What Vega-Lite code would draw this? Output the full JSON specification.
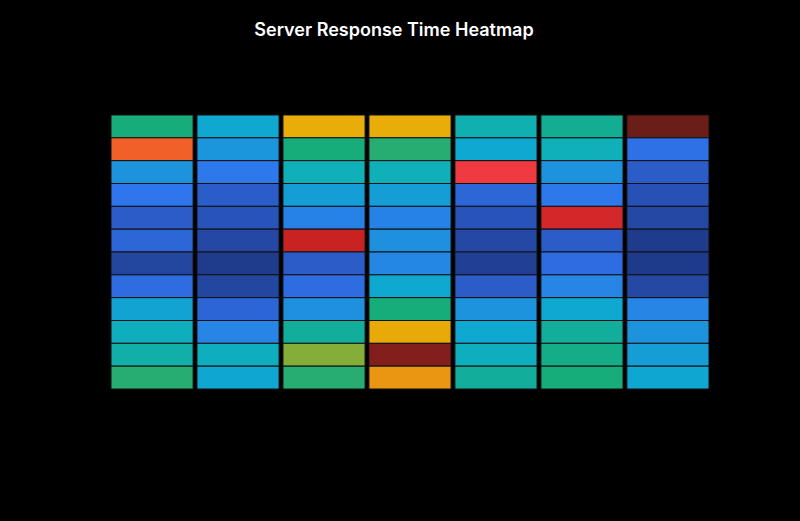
{
  "$schema": "https://vega.github.io/schema/vega-lite/v6.json",
  "autosize": {"type": "fit", "contains": "padding"},
  "width": 800,
  "height": 521,
  "padding": {"left": 110, "right": 90, "top": 21, "bottom": 131},
  "background": "#000000",
  "title": {
    "text": "Server Response Time Heatmap",
    "color": "#ffffff",
    "font": "Inter",
    "fontSize": 18,
    "fontWeight": 600,
    "anchor": "middle",
    "dx": -16,
    "offset": 75
  },
  "data": {
    "values": [
      {"day": "Mon", "slot": "00:00", "ms": 240}, {"day": "Mon", "slot": "02:00", "ms": 370}, {"day": "Mon", "slot": "04:00", "ms": 160}, {"day": "Mon", "slot": "06:00", "ms": 140},
      {"day": "Mon", "slot": "08:00", "ms": 120}, {"day": "Mon", "slot": "10:00", "ms": 128}, {"day": "Mon", "slot": "12:00", "ms": 100}, {"day": "Mon", "slot": "14:00", "ms": 133},
      {"day": "Mon", "slot": "16:00", "ms": 175}, {"day": "Mon", "slot": "18:00", "ms": 195}, {"day": "Mon", "slot": "20:00", "ms": 212}, {"day": "Mon", "slot": "22:00", "ms": 246},

      {"day": "Tue", "slot": "00:00", "ms": 180}, {"day": "Tue", "slot": "02:00", "ms": 162}, {"day": "Tue", "slot": "04:00", "ms": 142}, {"day": "Tue", "slot": "06:00", "ms": 121},
      {"day": "Tue", "slot": "08:00", "ms": 112}, {"day": "Tue", "slot": "10:00", "ms": 102}, {"day": "Tue", "slot": "12:00", "ms": 82}, {"day": "Tue", "slot": "14:00", "ms": 101},
      {"day": "Tue", "slot": "16:00", "ms": 127}, {"day": "Tue", "slot": "18:00", "ms": 150}, {"day": "Tue", "slot": "20:00", "ms": 195}, {"day": "Tue", "slot": "22:00", "ms": 178},

      {"day": "Wed", "slot": "00:00", "ms": 320}, {"day": "Wed", "slot": "02:00", "ms": 240}, {"day": "Wed", "slot": "04:00", "ms": 200}, {"day": "Wed", "slot": "06:00", "ms": 170},
      {"day": "Wed", "slot": "08:00", "ms": 148}, {"day": "Wed", "slot": "10:00", "ms": 440}, {"day": "Wed", "slot": "12:00", "ms": 120}, {"day": "Wed", "slot": "14:00", "ms": 133},
      {"day": "Wed", "slot": "16:00", "ms": 158}, {"day": "Wed", "slot": "18:00", "ms": 218}, {"day": "Wed", "slot": "20:00", "ms": 280}, {"day": "Wed", "slot": "22:00", "ms": 246},

      {"day": "Thu", "slot": "00:00", "ms": 320}, {"day": "Thu", "slot": "02:00", "ms": 246}, {"day": "Thu", "slot": "04:00", "ms": 200}, {"day": "Thu", "slot": "06:00", "ms": 170},
      {"day": "Thu", "slot": "08:00", "ms": 148}, {"day": "Thu", "slot": "10:00", "ms": 158}, {"day": "Thu", "slot": "12:00", "ms": 152}, {"day": "Thu", "slot": "14:00", "ms": 180},
      {"day": "Thu", "slot": "16:00", "ms": 240}, {"day": "Thu", "slot": "18:00", "ms": 322}, {"day": "Thu", "slot": "20:00", "ms": 485}, {"day": "Thu", "slot": "22:00", "ms": 335},

      {"day": "Fri", "slot": "00:00", "ms": 205}, {"day": "Fri", "slot": "02:00", "ms": 180}, {"day": "Fri", "slot": "04:00", "ms": 400}, {"day": "Fri", "slot": "06:00", "ms": 128},
      {"day": "Fri", "slot": "08:00", "ms": 112}, {"day": "Fri", "slot": "10:00", "ms": 102}, {"day": "Fri", "slot": "12:00", "ms": 90}, {"day": "Fri", "slot": "14:00", "ms": 120},
      {"day": "Fri", "slot": "16:00", "ms": 160}, {"day": "Fri", "slot": "18:00", "ms": 180}, {"day": "Fri", "slot": "20:00", "ms": 195}, {"day": "Fri", "slot": "22:00", "ms": 218},

      {"day": "Sat", "slot": "00:00", "ms": 225}, {"day": "Sat", "slot": "02:00", "ms": 200}, {"day": "Sat", "slot": "04:00", "ms": 160}, {"day": "Sat", "slot": "06:00", "ms": 142},
      {"day": "Sat", "slot": "08:00", "ms": 430}, {"day": "Sat", "slot": "10:00", "ms": 120}, {"day": "Sat", "slot": "12:00", "ms": 133}, {"day": "Sat", "slot": "14:00", "ms": 150},
      {"day": "Sat", "slot": "16:00", "ms": 180}, {"day": "Sat", "slot": "18:00", "ms": 218}, {"day": "Sat", "slot": "20:00", "ms": 232}, {"day": "Sat", "slot": "22:00", "ms": 240},

      {"day": "Sun", "slot": "00:00", "ms": 500}, {"day": "Sun", "slot": "02:00", "ms": 136}, {"day": "Sun", "slot": "04:00", "ms": 120}, {"day": "Sun", "slot": "06:00", "ms": 110},
      {"day": "Sun", "slot": "08:00", "ms": 102}, {"day": "Sun", "slot": "10:00", "ms": 82}, {"day": "Sun", "slot": "12:00", "ms": 80}, {"day": "Sun", "slot": "14:00", "ms": 102},
      {"day": "Sun", "slot": "16:00", "ms": 150}, {"day": "Sun", "slot": "18:00", "ms": 160}, {"day": "Sun", "slot": "20:00", "ms": 170}, {"day": "Sun", "slot": "22:00", "ms": 178}
    ]
  },
  "mark": {"type": "rect", "stroke": "#111111", "strokeWidth": 1},
  "encoding": {
    "x": {
      "field": "day",
      "type": "nominal",
      "sort": ["Mon", "Tue", "Wed", "Thu", "Fri", "Sat", "Sun"],
      "scale": {"paddingInner": 0.045, "paddingOuter": 0},
      "axis": null
    },
    "y": {
      "field": "slot",
      "type": "ordinal",
      "scale": {"paddingInner": 0, "paddingOuter": 0},
      "axis": null
    },
    "color": {
      "field": "ms",
      "type": "quantitative",
      "scale": {
        "interpolate": "rgb",
        "domain": [80, 100, 120, 140, 160, 180, 200, 220, 240, 280, 320, 370, 400, 440, 500],
        "range": ["#1e3a8a", "#23469f", "#2b5cc8", "#2f76ee", "#1c93dc", "#0ea8d0", "#0fb0b8", "#12ae98", "#17ad7b", "#84ae38", "#e8ad08", "#f06028", "#ee3a40", "#c82222", "#6b1d18"]
      },
      "legend": null
    },
    "tooltip": [
      {"field": "day", "type": "nominal"},
      {"field": "slot", "type": "ordinal"},
      {"field": "ms", "type": "quantitative", "title": "Response (ms)"}
    ]
  },
  "config": {"view": {"stroke": null}}
}
